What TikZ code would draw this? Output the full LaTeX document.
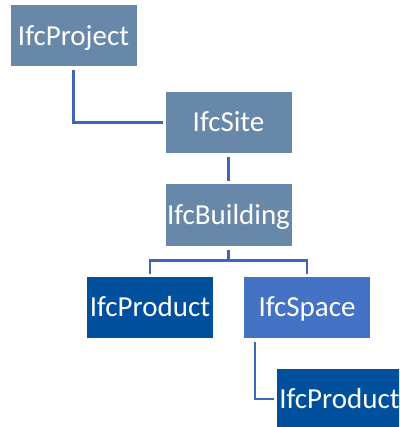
\documentclass[tikz,border=0pt]{standalone}
\usepackage{fontspec}
\setmainfont{Carlito}
\definecolor{ifcgray}{HTML}{6888AA}
\definecolor{ifcdark}{HTML}{00509E}
\definecolor{ifcspace}{HTML}{4472C4}
\definecolor{ifcline}{HTML}{3F66B6}
\tikzset{
  ifcbox/.style={draw=white, line width=1pt, minimum width=127pt, minimum height=62pt,
    inner sep=0pt, text=white, text height=18.5pt, text depth=0pt,
    font=\fontsize{29}{34}\selectfont},
  link/.style={ifcline, line width=2.6pt, shorten <=3pt, shorten >=2pt}
}
\begin{document}
\begin{tikzpicture}[x=1pt, y=1pt]
       \useasboundingbox[fill=white] (0,0) rectangle (399,-427);
       \begin{scope}
       \clip (0,0) rectangle (399,-427);
       % boxes
       \node[ifcbox, fill=ifcgray] (project) at (73.5,-36) {IfcProject};
       \node[ifcbox, fill=ifcgray] (site) at (228.5,-122.5) {IfcSite};
       \node[ifcbox, fill=ifcgray] (building) at (228.5,-215) {IfcBuilding};
       \node[ifcbox, fill=ifcdark] (product) at (150,-307) {IfcProduct};
       \node[ifcbox, fill=ifcspace] (space) at (307,-307) {IfcSpace};
       \node[ifcbox, fill=ifcdark] (spaceproduct) at (339.5,-399) {IfcProduct};
       % connectors
       \draw[link] (project.south) |- (site.west);
       \draw[link] (site.south) -- (building.north);
       \coordinate (split) at ([yshift=-14pt]building.south);
       \draw[link, shorten >=0pt] (building.south) -- (split);
       \draw[link, shorten <=0pt, line join=miter] (split) -| (product.north);
       \draw[link, shorten <=0pt, line join=miter] (split) -| (space.north);
       \draw[link] ([xshift=12pt]space.south west) |- (spaceproduct.west);
       \end{scope}
\end{tikzpicture}
\end{document}
